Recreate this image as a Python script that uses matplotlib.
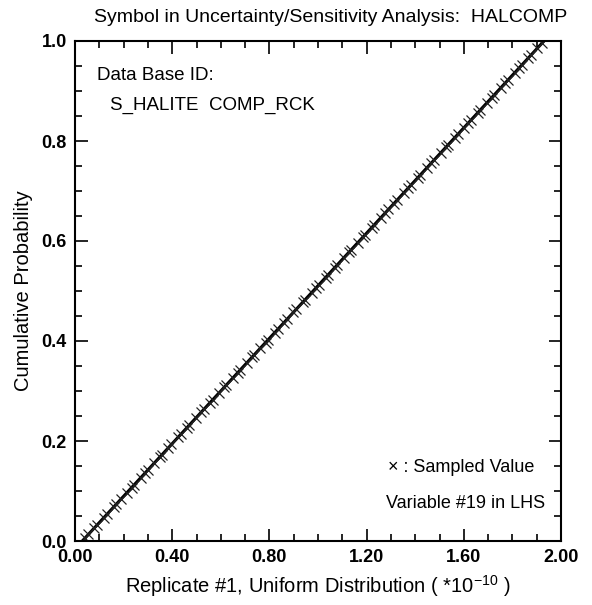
import numpy as np
import matplotlib
matplotlib.use("Agg")
import matplotlib.pyplot as plt
from matplotlib.ticker import MultipleLocator, FormatStrFormatter

plt.rcParams['font.family'] = ['Liberation Sans', 'DejaVu Sans']

# uniform distribution bounds (*1e-10) and the 100 LHS sampled values
bounds = [0.03, 1.93]
cdf_ends = [0.0, 1.0]
samples = [
    0.041, 0.055, 0.079, 0.092, 0.118, 0.131, 0.160, 0.170, 0.189, 0.214,
    0.233, 0.243, 0.270, 0.289, 0.300, 0.327, 0.349, 0.358, 0.384, 0.397,
    0.425, 0.436, 0.461, 0.471, 0.498, 0.519, 0.530, 0.556, 0.566, 0.593,
    0.614, 0.622, 0.650, 0.669, 0.680, 0.707, 0.729, 0.738, 0.763, 0.784,
    0.795, 0.821, 0.834, 0.860, 0.872, 0.899, 0.911, 0.937, 0.946, 0.974,
    0.991, 1.003, 1.031, 1.042, 1.069, 1.080, 1.106, 1.127, 1.137, 1.163,
    1.184, 1.193, 1.221, 1.232, 1.259, 1.277, 1.290, 1.312, 1.326, 1.354,
    1.372, 1.383, 1.410, 1.421, 1.448, 1.467, 1.478, 1.505, 1.526, 1.535,
    1.562, 1.575, 1.600, 1.619, 1.631, 1.658, 1.668, 1.695, 1.715, 1.725,
    1.752, 1.771, 1.783, 1.809, 1.829, 1.840, 1.866, 1.878, 1.903, 1.922,
]
samples = np.array(samples)
probs = np.interp(samples, bounds, cdf_ends)

fig = plt.figure(figsize=(5.92, 6.05), dpi=100)
ax = fig.add_axes([75 / 592, 1 - 541 / 605, 486 / 592, 500 / 605])

ax.plot(bounds, cdf_ends, color='black', lw=2.2)
ax.plot(samples, probs, linestyle='none', marker='x', markersize=7,
        markeredgewidth=0.9, color='#222222')

ax.set_xlim(0, 2.0)
ax.set_ylim(0, 1.0)
ax.xaxis.set_major_locator(MultipleLocator(0.4))
ax.xaxis.set_minor_locator(MultipleLocator(0.1))
ax.yaxis.set_major_locator(MultipleLocator(0.2))
ax.yaxis.set_minor_locator(MultipleLocator(0.05))
ax.xaxis.set_major_formatter(FormatStrFormatter('%.2f'))
ax.yaxis.set_major_formatter(FormatStrFormatter('%.1f'))
ax.tick_params(which='both', direction='in', top=True, right=True, width=1.2)
ax.tick_params(which='major', length=9, labelsize=13, pad=6)
ax.tick_params(which='minor', length=5)
for lab in ax.get_xticklabels() + ax.get_yticklabels():
    lab.set_fontweight('bold')
for s in ax.spines.values():
    s.set_linewidth(1.5)

ax.set_xlabel('Replicate #1, Uniform Distribution ( *10$^{\\mathregular{-10}}$ )',
              fontsize=14.5, labelpad=5)
ax.set_ylabel('Cumulative Probability', fontsize=14.5, labelpad=6)
fig.text(331 / 592, 1 - 18 / 605,
         'Symbol in Uncertainty/Sensitivity Analysis:  HALCOMP',
         ha='center', va='center', fontsize=14)

ax.text(0.045, 0.932, 'Data Base ID:', transform=ax.transAxes, fontsize=13.5,
        va='center')
ax.text(0.072, 0.872, 'S_HALITE  COMP_RCK', transform=ax.transAxes,
        fontsize=13.5, va='center')
ax.text(0.645, 0.148, '\u00d7 : Sampled Value', transform=ax.transAxes,
        fontsize=13, va='center')
ax.text(0.64, 0.074, 'Variable #19 in LHS', transform=ax.transAxes,
        fontsize=13, va='center')

fig.savefig('out.png', dpi=100)
